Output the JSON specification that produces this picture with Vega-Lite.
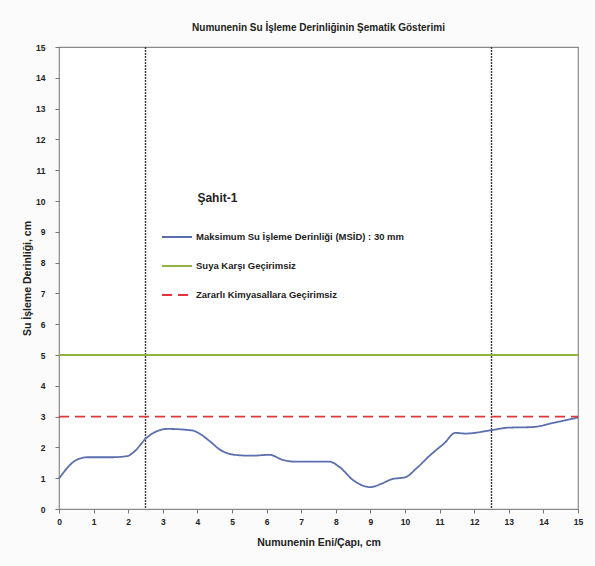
{
  "$schema": "https://vega.github.io/schema/vega-lite/v6.json",
  "width": 519,
  "height": 462,
  "autosize": {"type": "none"},
  "padding": {"left": 59, "top": 47, "right": 17, "bottom": 57},
  "background": "#fbfbfb",
  "title": {
    "text": "Numunenin Su İşleme Derinliğinin Şematik Gösterimi",
    "font": "Liberation Sans",
    "fontSize": 10,
    "fontWeight": "bold",
    "color": "#222222",
    "offset": 10
  },
  "config": {
    "view": {"stroke": "#8a8a8a", "strokeWidth": 1.2, "fill": "#ffffff"},
    "font": "Liberation Sans",
    "axis": {
      "labelFont": "Liberation Sans",
      "labelFontWeight": "bold",
      "labelFontSize": 8.5,
      "labelColor": "#222222",
      "labelOverlap": false,
      "labelFlush": false,
      "titleFont": "Liberation Sans",
      "titleFontWeight": "bold",
      "titleFontSize": 10.5,
      "titleColor": "#222222",
      "grid": false,
      "domain": false,
      "tickColor": "#777777",
      "tickSize": 4
    }
  },
  "datasets": {
    "curves": [
      {"x": 0, "y": 0.99, "series": "Maksimum Su İşleme Derinliği (MSİD) : 30 mm"},
      {"x": 0.5, "y": 1.59, "series": "Maksimum Su İşleme Derinliği (MSİD) : 30 mm"},
      {"x": 0.81, "y": 1.68, "series": "Maksimum Su İşleme Derinliği (MSİD) : 30 mm"},
      {"x": 1.52, "y": 1.68, "series": "Maksimum Su İşleme Derinliği (MSİD) : 30 mm"},
      {"x": 1.98, "y": 1.72, "series": "Maksimum Su İşleme Derinliği (MSİD) : 30 mm"},
      {"x": 2.18, "y": 1.87, "series": "Maksimum Su İşleme Derinliği (MSİD) : 30 mm"},
      {"x": 2.53, "y": 2.31, "series": "Maksimum Su İşleme Derinliği (MSİD) : 30 mm"},
      {"x": 2.84, "y": 2.53, "series": "Maksimum Su İşleme Derinliği (MSİD) : 30 mm"},
      {"x": 3.14, "y": 2.6, "series": "Maksimum Su İşleme Derinliği (MSİD) : 30 mm"},
      {"x": 3.85, "y": 2.55, "series": "Maksimum Su İşleme Derinliği (MSİD) : 30 mm"},
      {"x": 4.1, "y": 2.42, "series": "Maksimum Su İşleme Derinliği (MSİD) : 30 mm"},
      {"x": 4.36, "y": 2.2, "series": "Maksimum Su İşleme Derinliği (MSİD) : 30 mm"},
      {"x": 4.66, "y": 1.92, "series": "Maksimum Su İşleme Derinliği (MSİD) : 30 mm"},
      {"x": 5.07, "y": 1.76, "series": "Maksimum Su İşleme Derinliği (MSİD) : 30 mm"},
      {"x": 5.57, "y": 1.73, "series": "Maksimum Su İşleme Derinliği (MSİD) : 30 mm"},
      {"x": 6.08, "y": 1.76, "series": "Maksimum Su İşleme Derinliği (MSİD) : 30 mm"},
      {"x": 6.48, "y": 1.59, "series": "Maksimum Su İşleme Derinliği (MSİD) : 30 mm"},
      {"x": 6.79, "y": 1.54, "series": "Maksimum Su İşleme Derinliği (MSİD) : 30 mm"},
      {"x": 7.8, "y": 1.54, "series": "Maksimum Su İşleme Derinliği (MSİD) : 30 mm"},
      {"x": 8.1, "y": 1.37, "series": "Maksimum Su İşleme Derinliği (MSİD) : 30 mm"},
      {"x": 8.51, "y": 0.93, "series": "Maksimum Su İşleme Derinliği (MSİD) : 30 mm"},
      {"x": 9.0, "y": 0.71, "series": "Maksimum Su İşleme Derinliği (MSİD) : 30 mm"},
      {"x": 9.32, "y": 0.82, "series": "Maksimum Su İşleme Derinliği (MSİD) : 30 mm"},
      {"x": 9.6, "y": 0.96, "series": "Maksimum Su İşleme Derinliği (MSİD) : 30 mm"},
      {"x": 10.03, "y": 1.04, "series": "Maksimum Su İşleme Derinliği (MSİD) : 30 mm"},
      {"x": 10.33, "y": 1.32, "series": "Maksimum Su İşleme Derinliği (MSİD) : 30 mm"},
      {"x": 10.74, "y": 1.76, "series": "Maksimum Su İşleme Derinliği (MSİD) : 30 mm"},
      {"x": 11.14, "y": 2.14, "series": "Maksimum Su İşleme Derinliği (MSİD) : 30 mm"},
      {"x": 11.45, "y": 2.47, "series": "Maksimum Su İşleme Derinliği (MSİD) : 30 mm"},
      {"x": 11.75, "y": 2.45, "series": "Maksimum Su İşleme Derinliği (MSİD) : 30 mm"},
      {"x": 12.5, "y": 2.56, "series": "Maksimum Su İşleme Derinliği (MSİD) : 30 mm"},
      {"x": 12.97, "y": 2.64, "series": "Maksimum Su İşleme Derinliği (MSİD) : 30 mm"},
      {"x": 13.68, "y": 2.66, "series": "Maksimum Su İşleme Derinliği (MSİD) : 30 mm"},
      {"x": 14.3, "y": 2.8, "series": "Maksimum Su İşleme Derinliği (MSİD) : 30 mm"},
      {"x": 15, "y": 2.97, "series": "Maksimum Su İşleme Derinliği (MSİD) : 30 mm"},
      {"x": 0, "y": 5, "series": "Suya Karşı Geçirimsiz"},
      {"x": 15, "y": 5, "series": "Suya Karşı Geçirimsiz"},
      {"x": 0, "y": 3, "series": "Zararlı Kimyasallara Geçirimsiz"},
      {"x": 15, "y": 3, "series": "Zararlı Kimyasallara Geçirimsiz"}
    ],
    "edges": [
      {"x": 2.5},
      {"x": 12.5}
    ],
    "caption": [
      {"x": 4.0, "y": 10.1, "label": "Şahit-1"}
    ]
  },
  "layer": [
    {
      "data": {"name": "edges"},
      "mark": {"type": "rule", "color": "#3a3a3a", "strokeWidth": 1.4, "strokeDash": [2, 1]},
      "encoding": {
        "x": {
          "field": "x",
          "type": "quantitative",
          "scale": {"domain": [0, 15], "nice": false},
          "axis": {"values": [0,1,2,3,4,5,6,7,8,9,10,11,12,13,14,15], "labelOverlap": false, "title": "Numunenin Eni/Çapı, cm", "labelPadding": 4, "titlePadding": 12}
        }
      }
    },
    {
      "data": {"name": "curves"},
      "mark": {"type": "line", "interpolate": "monotone"},
      "encoding": {
        "x": {
          "field": "x",
          "type": "quantitative",
          "scale": {"domain": [0, 15], "nice": false},
          "axis": {"values": [0,1,2,3,4,5,6,7,8,9,10,11,12,13,14,15], "labelOverlap": false, "title": "Numunenin Eni/Çapı, cm", "labelPadding": 4, "titlePadding": 12}
        },
        "y": {
          "field": "y",
          "type": "quantitative",
          "scale": {"domain": [0, 15], "nice": false},
          "axis": {"values": [0,1,2,3,4,5,6,7,8,9,10,11,12,13,14,15], "labelOverlap": false, "title": "Su İşleme Derinliği, cm", "labelPadding": 10, "titlePadding": 3}
        },
        "color": {
          "field": "series",
          "type": "nominal",
          "scale": {
            "domain": ["Maksimum Su İşleme Derinliği (MSİD) : 30 mm", "Suya Karşı Geçirimsiz", "Zararlı Kimyasallara Geçirimsiz"],
            "range": ["#5b6fae", "#93b340", "#e0343a"]
          },
          "legend": {
            "title": null,
            "orient": "none",
            "legendX": 102,
            "legendY": 174,
            "symbolType": "stroke",
            "symbolSize": 900,
            "labelFont": "Liberation Sans",
            "labelFontWeight": "bold",
            "labelFontSize": 9.5,
            "labelColor": "#222222",
            "labelOffset": 3,
            "rowPadding": 8,
            "labelLimit": 400
          }
        },
        "strokeDash": {
          "field": "series",
          "type": "nominal",
          "scale": {
            "domain": ["Maksimum Su İşleme Derinliği (MSİD) : 30 mm", "Suya Karşı Geçirimsiz", "Zararlı Kimyasallara Geçirimsiz"],
            "range": [[1, 0], [1, 0], [10, 6]]
          },
          "legend": null
        },
        "strokeWidth": {
          "field": "series",
          "type": "nominal",
          "scale": {
            "domain": ["Maksimum Su İşleme Derinliği (MSİD) : 30 mm", "Suya Karşı Geçirimsiz", "Zararlı Kimyasallara Geçirimsiz"],
            "range": [1.8, 1.8, 3]
          },
          "legend": null
        }
      }
    },
    {
      "data": {"name": "caption"},
      "mark": {"type": "text", "align": "left", "baseline": "middle", "font": "Liberation Sans", "fontWeight": "bold", "fontSize": 12, "color": "#222222"},
      "encoding": {
        "x": {
          "field": "x",
          "type": "quantitative",
          "scale": {"domain": [0, 15], "nice": false},
          "axis": {"values": [0,1,2,3,4,5,6,7,8,9,10,11,12,13,14,15], "labelOverlap": false, "title": "Numunenin Eni/Çapı, cm", "labelPadding": 4, "titlePadding": 12}
        },
        "y": {
          "field": "y",
          "type": "quantitative",
          "scale": {"domain": [0, 15], "nice": false},
          "axis": {"values": [0,1,2,3,4,5,6,7,8,9,10,11,12,13,14,15], "labelOverlap": false, "title": "Su İşleme Derinliği, cm", "labelPadding": 10, "titlePadding": 3}
        },
        "text": {"field": "label"}
      }
    }
  ]
}
